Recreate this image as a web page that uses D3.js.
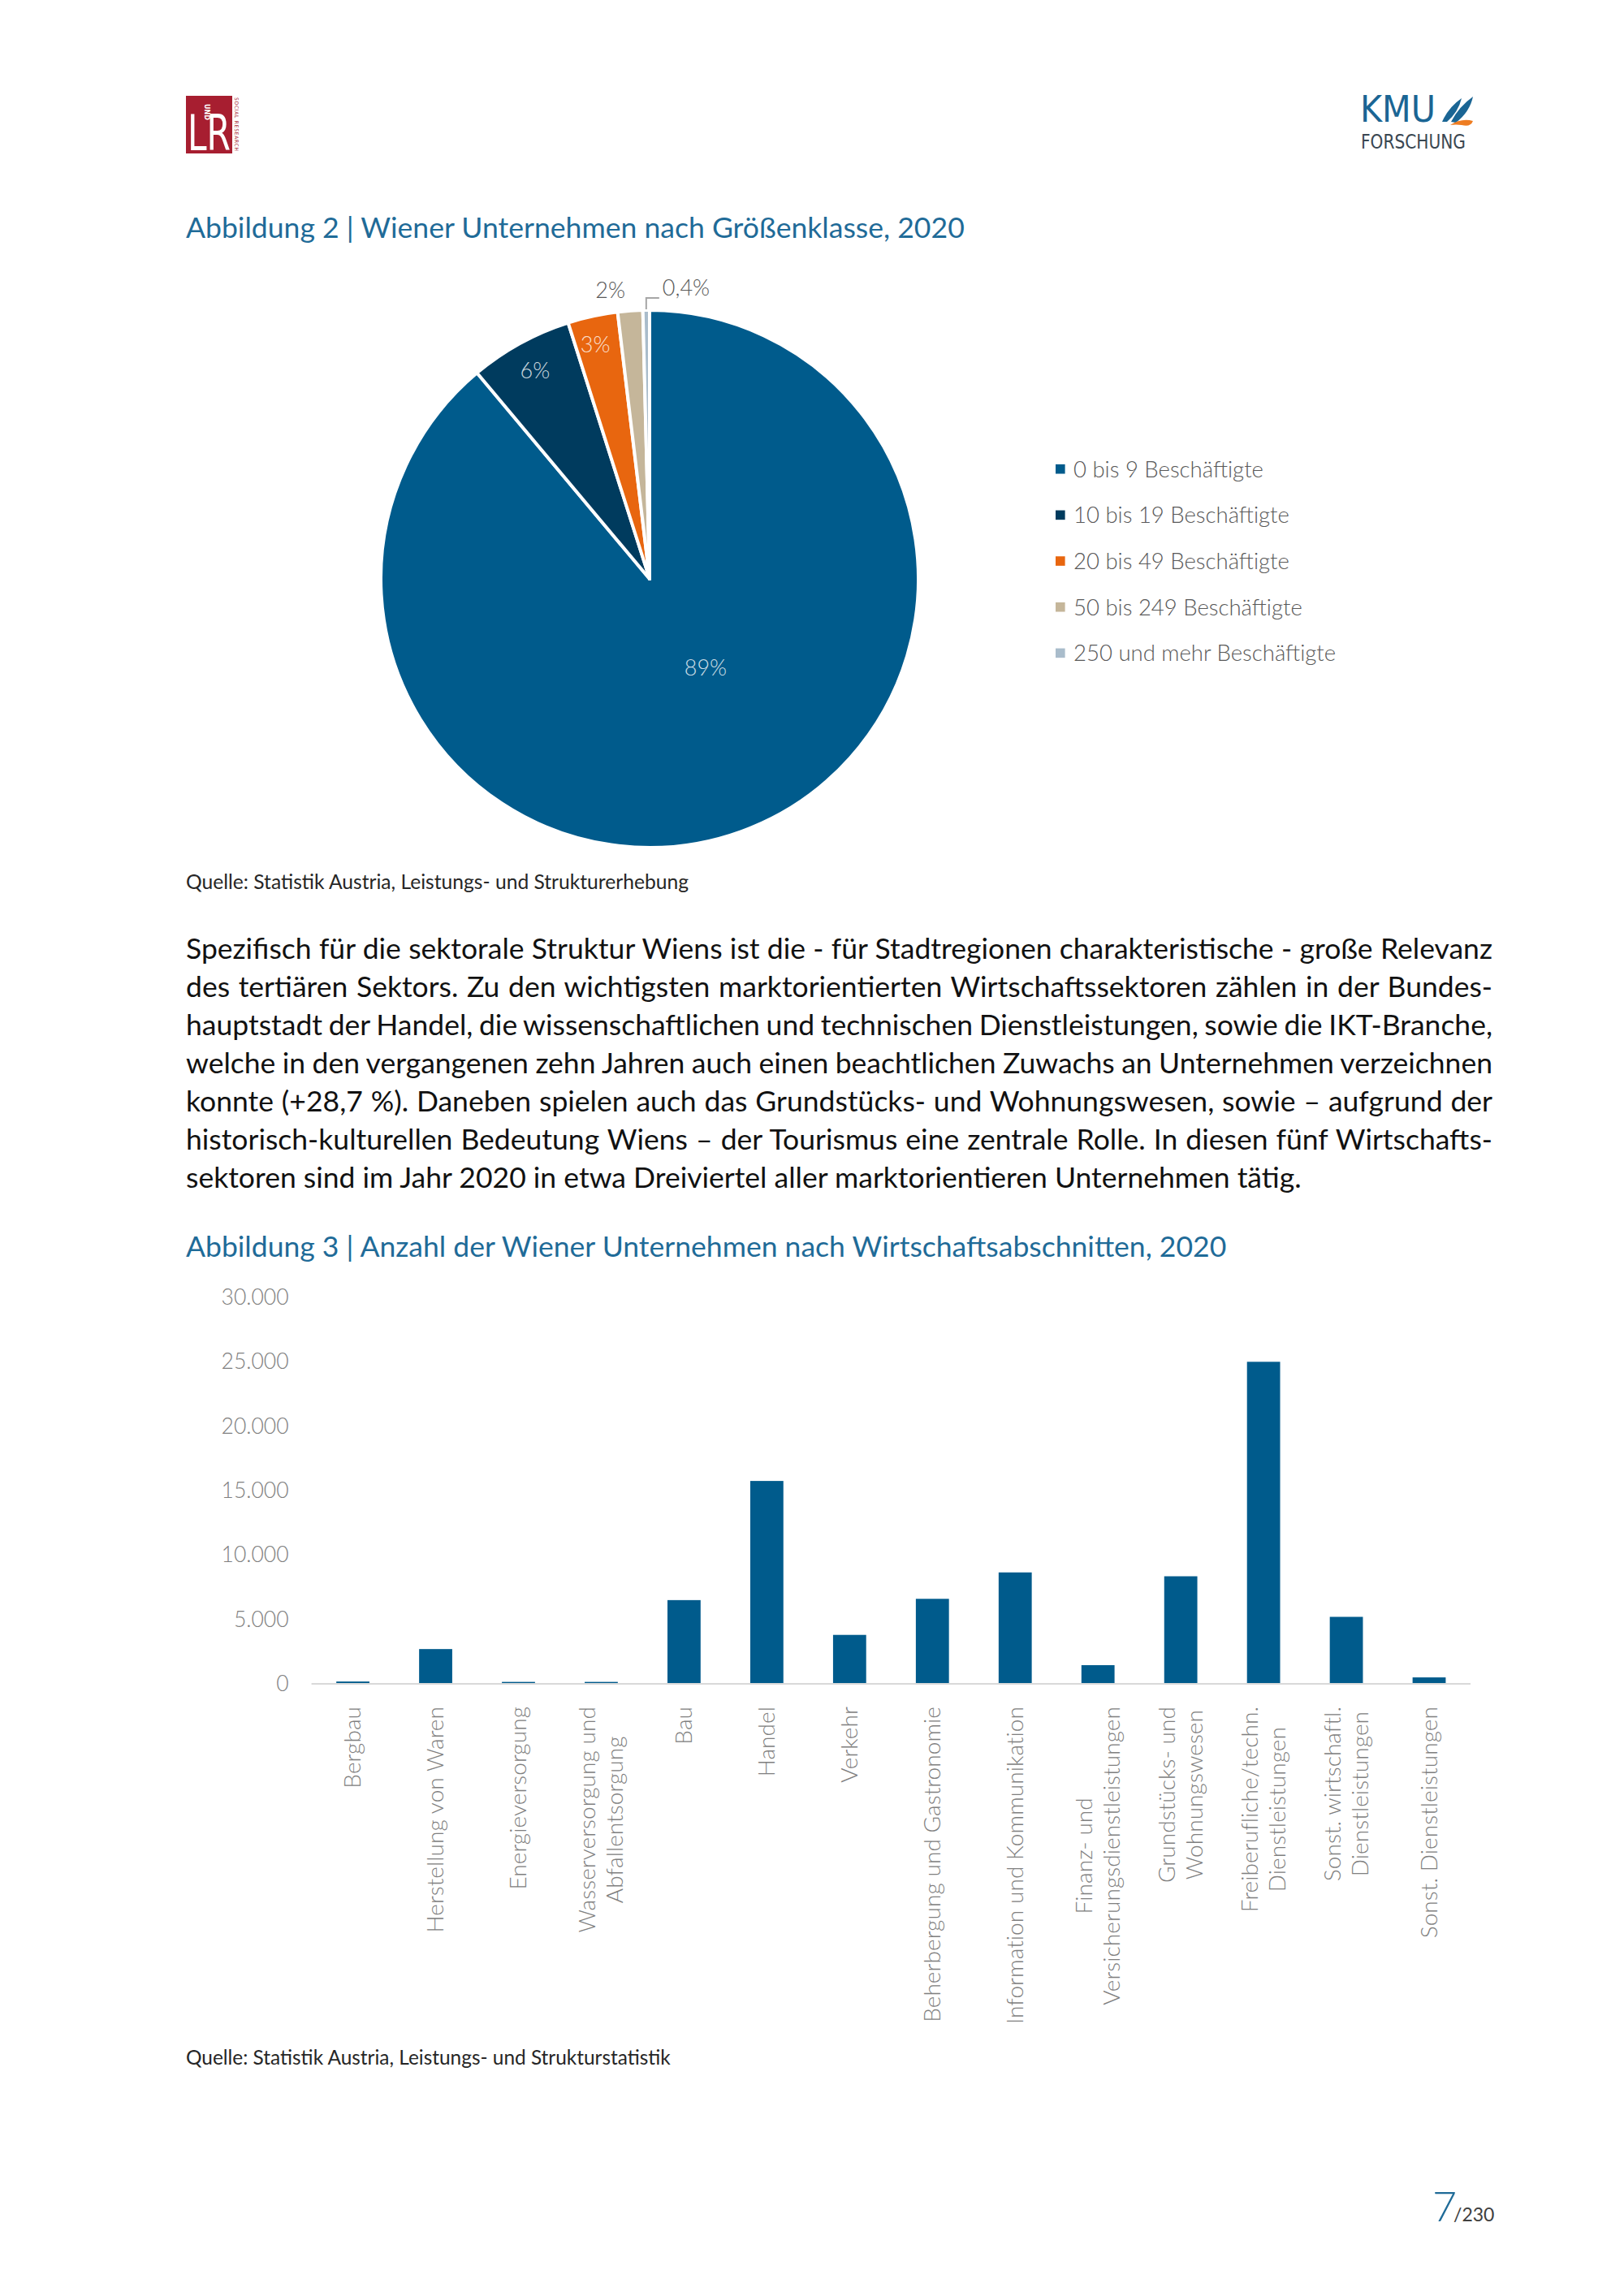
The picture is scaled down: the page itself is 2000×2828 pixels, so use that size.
<!DOCTYPE html>
<html><head><meta charset="utf-8">
<script src="https://cdn.jsdelivr.net/npm/d3@7"></script>
<style>body{margin:0;background:#fff}svg{display:block}</style>
</head><body>
<script>
// ---------- DATA ----------
const pieCategories = ["0 bis 9 Beschäftigte","10 bis 19 Beschäftigte","20 bis 49 Beschäftigte","50 bis 249 Beschäftigte","250 und mehr Beschäftigte"];
const pieValues = [88.9, 6.2, 3.0, 1.5, 0.4];
const pieLabels = ["89%","6%","3%","2%","0,4%"];
const pieColors = ["#005B8C","#003B5E","#E8660F","#C5B69A","#A9BCCB"];

const barCategories = ["Bergbau","Herstellung von Waren","Energieversorgung","Wasserversorgung und\nAbfallentsorgung","Bau","Handel","Verkehr","Beherbergung und Gastronomie","Information und Kommunikation","Finanz- und\nVersicherungsdienstleistungen","Grundstücks- und\nWohnungswesen","Freiberufliche/techn.\nDienstleistungen","Sonst. wirtschaftl.\nDienstleistungen","Sonst. Dienstleistungen"];
const barValues = [180, 2700, 150, 150, 6500, 15750, 3800, 6600, 8650, 1450, 8350, 25000, 5200, 500];
const yTicks = [0, 5000, 10000, 15000, 20000, 25000, 30000];

const title1 = "Abbildung 2 | Wiener Unternehmen nach Größenklasse, 2020";
const title2 = "Abbildung 3 | Anzahl der Wiener Unternehmen nach Wirtschaftsabschnitten, 2020";
const source1 = "Quelle: Statistik Austria, Leistungs- und Strukturerhebung";
const source2 = "Quelle: Statistik Austria, Leistungs- und Strukturstatistik";
const paragraph = [
 "Spezifisch für die sektorale Struktur Wiens ist die - für Stadtregionen charakteristische - große Relevanz",
 "des tertiären Sektors. Zu den wichtigsten marktorientierten Wirtschaftssektoren zählen in der Bundes-",
 "hauptstadt der Handel, die wissenschaftlichen und technischen Dienstleistungen, sowie die IKT-Branche,",
 "welche in den vergangenen zehn Jahren auch einen beachtlichen Zuwachs an Unternehmen verzeichnen",
 "konnte (+28,7 %). Daneben spielen auch das Grundstücks- und Wohnungswesen, sowie – aufgrund der",
 "historisch-kulturellen Bedeutung Wiens – der Tourismus eine zentrale Rolle. In diesen fünf Wirtschafts-",
 "sektoren sind im Jahr 2020 in etwa Dreiviertel aller marktorientieren Unternehmen tätig."
];

// ---------- DRAW ----------
const W = 2000, H = 2828;
const svg = d3.select("body").append("svg").attr("width", W).attr("height", H);
svg.append("rect").attr("width", W).attr("height", H).attr("fill", "#fff");
const BLUE_T = "#1F6B98";

function fit(sel, target) {
  const w = sel.node().getComputedTextLength();
  const fs = parseFloat(sel.attr("font-size"));
  sel.attr("font-size", fs * target / w);
  return fs * target / w;
}

// Logos
const lr = svg.append("g");
lr.append("rect").attr("x", 229).attr("y", 118).attr("width", 57).attr("height", 71).attr("fill", "#A71E30");
lr.append("text").attr("x", 231).attr("y", 185).attr("font-family", "DejaVu Sans Condensed, DejaVu Sans").attr("font-size", 60)
  .attr("fill", "#fff").attr("textLength", 53).attr("lengthAdjust", "spacingAndGlyphs").text("LR");
lr.append("text").attr("transform", "translate(252,128) rotate(90)").attr("font-family", "DejaVu Sans").attr("font-size", 8)
  .attr("font-weight", "bold").attr("fill", "#fff").text("UND");
lr.append("text").attr("transform", "translate(289,120) rotate(90)").attr("font-family", "DejaVu Sans Condensed, DejaVu Sans").attr("font-size", 6.5)
  .attr("fill", "#A71E30").attr("letter-spacing", 0.8).text("SOCIAL RESEARCH");

const kmu = svg.append("g");
kmu.append("text").attr("x", 1675).attr("y", 150).attr("font-family", "DejaVu Sans Condensed, DejaVu Sans")
  .attr("font-size", 44).attr("fill", "#1A6594").attr("textLength", 93).attr("lengthAdjust", "spacingAndGlyphs").text("KMU");
kmu.append("path").attr("d", "M1776,150 Q1784,132 1800,121 Q1796,138 1782,150 Z").attr("fill", "#1A6594");
kmu.append("path").attr("d", "M1787,150 Q1797,131 1814,119 Q1810,138 1793,151 Z").attr("fill", "#1A6594");
kmu.append("path").attr("d", "M1786,154 Q1800,145 1814,149 Q1811,157 1800,154 Q1793,153 1786,154 Z").attr("fill", "#EE7D22");
kmu.append("text").attr("x", 1676).attr("y", 183).attr("font-family", "DejaVu Sans Condensed, DejaVu Sans")
  .attr("font-size", 25).attr("fill", "#3A4752").attr("textLength", 129).attr("lengthAdjust", "spacingAndGlyphs").text("FORSCHUNG");

// Titles
const t1 = svg.append("text").attr("x", 229).attr("y", 293).attr("font-family", "Lato").attr("font-size", 35).attr("fill", BLUE_T).text(title1);
fit(t1, 959);
const t2 = svg.append("text").attr("x", 229).attr("y", 1548).attr("font-family", "Lato").attr("font-size", 35).attr("fill", BLUE_T).text(title2);
fit(t2, 1282);

// ---------- PIE ----------
const cx = 800, cy = 713, R = 331;
const pie = d3.pie().sort(null).value(d => d);
const arcs = pie(pieValues);
const arc = d3.arc().innerRadius(0).outerRadius(R);
const pg = svg.append("g").attr("transform", `translate(${cx},${cy})`);
pg.selectAll("path").data(arcs).join("path").attr("d", arc)
  .attr("fill", (d, i) => pieColors[i]).attr("stroke", "#fff").attr("stroke-width", 4).attr("stroke-linejoin", "round");

// label placement: [radius factor, angle shift in degrees]
const labelPlace = [[0.39, -12.3], [0.885, 0], [0.895, -0.8], [1.085, -3.6], [null, 0]];
const deg = Math.PI / 180;
arcs.forEach((d, i) => {
  const mid = (d.startAngle + d.endAngle) / 2;
  if (i < 4) {
    const [rf, sh] = labelPlace[i];
    const p = d3.pointRadial(mid + sh * deg, R * rf);
    const inside = i < 3;
    pg.append("text").attr("x", p[0]).attr("y", p[1]).attr("dy", "0.35em").attr("text-anchor", "middle")
      .attr("font-family", "Lato").attr("font-weight", 300).attr("font-size", 27)
      .attr("fill", inside ? "#fff" : "#595959").attr("fill-opacity", inside ? 0.8 : 1).text(pieLabels[i]);
  } else {
    const p0 = d3.pointRadial(mid, R + 1);
    const p1 = [p0[0], p0[1] - 14];
    const p2 = [p0[0] + 16, p0[1] - 14];
    pg.append("path").attr("d", d3.line()([p0, p1, p2])).attr("fill", "none").attr("stroke", "#A6A6A6").attr("stroke-width", 2);
    pg.append("text").attr("x", p2[0] + 4).attr("y", p2[1]).attr("dy", "-0.1em")
      .attr("font-family", "Lato").attr("font-weight", 300).attr("font-size", 27).attr("fill", "#595959").text(pieLabels[i]);
  }
});

// legend
const lg = svg.append("g");
let legFs = 26;
pieCategories.forEach((c, i) => {
  const y = 577.7 + i * 56.67;
  lg.append("rect").attr("x", 1300).attr("y", y - 5.8).attr("width", 11.6).attr("height", 11.6).attr("fill", pieColors[i]);
  const t = lg.append("text").attr("x", 1322).attr("y", y).attr("dy", "0.36em").attr("font-family", "Lato").attr("font-weight", 300)
    .attr("font-size", legFs).attr("fill", "#595959").text(c);
  if (i === 0) legFs = fit(t, 234);
});

// source 1
const s1 = svg.append("text").attr("x", 229).attr("y", 1095).attr("font-family", "Lato").attr("font-size", 22).attr("fill", "#262626").text(source1);
fit(s1, 619);

// paragraph
const pg2 = svg.append("g").attr("font-family", "Lato").attr("fill", "#111");
const probe = pg2.append("text").attr("font-size", 32).text(paragraph[6]);
const pFs = 32 * 1374 / probe.node().getComputedTextLength();
probe.remove();
paragraph.forEach((line, i) => {
  const t = pg2.append("text").attr("x", 229).attr("y", 1181 + i * 46.93).attr("font-size", pFs).text(line);
  if (i < paragraph.length - 1) {
    const w = t.node().getComputedTextLength();
    const spaces = (line.match(/ /g) || []).length;
    t.attr("word-spacing", (1609 - w) / spaces);
  }
});

// ---------- BAR CHART ----------
const x = d3.scaleBand().domain(barCategories).range([383.6, 1811]).paddingInner(0.6).paddingOuter(0.3);
const y = d3.scaleLinear().domain([0, 30000]).range([2074, 1598]);
const fmt = v => d3.format(",")(v).replace(/,/g, ".");

const yAxis = svg.append("g").attr("transform", "translate(383.6,0)")
  .call(d3.axisLeft(y).tickValues(yTicks).tickSize(0).tickPadding(28).tickFormat(fmt));
yAxis.select(".domain").remove();
yAxis.selectAll("text").attr("font-family", "Lato").attr("font-weight", 300).attr("font-size", 26.5).attr("fill", "#7F7F7F");

svg.append("g").selectAll("rect").data(barValues).join("rect")
  .attr("x", (d, i) => x(barCategories[i])).attr("width", x.bandwidth())
  .attr("y", d => y(d)).attr("height", d => y(0) - y(d)).attr("fill", "#005B8C");

svg.append("line").attr("x1", x.range()[0]).attr("x2", x.range()[1]).attr("y1", y(0)).attr("y2", y(0))
  .attr("stroke", "#D9D9D9").attr("stroke-width", 2);

// x labels (rotated, multi-line centered)
const xl = svg.append("g").attr("font-family", "Lato").attr("font-weight", 300).attr("font-size", 28).attr("fill", "#7F7F7F");
const pr = xl.append("text").text("Information und Kommunikation");
const ls = (392 - pr.node().getComputedTextLength()) / 28;
pr.remove();
xl.attr("letter-spacing", ls);
const topY = 2102, lineGap = 34;
barCategories.forEach(c => {
  const lines = c.split("\n");
  const cxb = x(c) + x.bandwidth() / 2;
  const g = xl.append("g").attr("transform", `translate(${cxb},0) rotate(-90)`);
  const ts = lines.map((l, j) => g.append("text").attr("y", (j - (lines.length - 1) / 2) * lineGap).attr("dy", "0.35em")
    .attr("text-anchor", "middle").text(l));
  const L = d3.max(ts, t => t.node().getComputedTextLength());
  ts.forEach(t => t.attr("x", -(topY + L / 2)));
});

// source 2
const s2 = svg.append("text").attr("x", 229).attr("y", 2543).attr("font-family", "Lato").attr("font-size", 22).attr("fill", "#262626").text(source2);
fit(s2, 597);

// page number
svg.append("text").attr("x", 1764).attr("y", 2736).attr("font-family", "Lato").attr("font-weight", 300).attr("font-size", 52).attr("fill", BLUE_T).text("7");
svg.append("text").attr("x", 1790).attr("y", 2736).attr("font-family", "Lato").attr("font-size", 23).attr("fill", "#404040").text("/230");
</script>
</body></html>
